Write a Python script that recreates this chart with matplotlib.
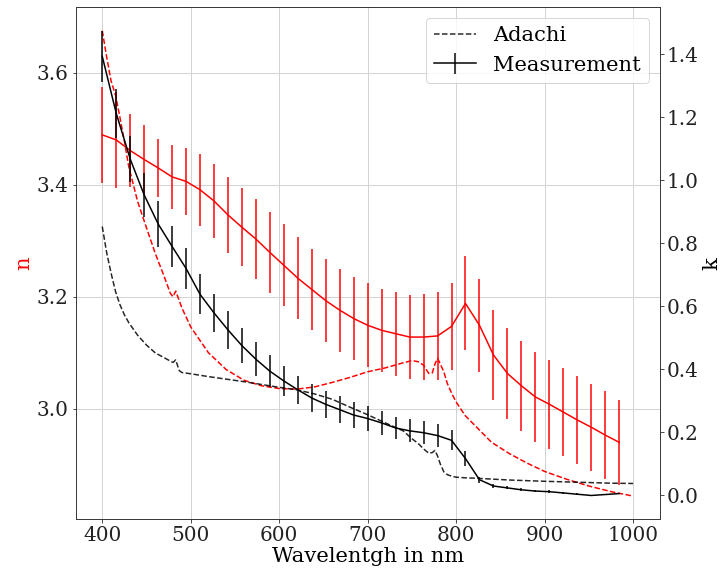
import matplotlib
matplotlib.use('Agg')
import matplotlib.pyplot as plt
import numpy as np

# measured points (nm)
wavelength = [400.0, 415.8, 431.6, 447.4, 463.2, 478.9, 494.7, 510.5, 526.3, 542.1,
              557.9, 573.7, 589.5, 605.3, 621.1, 636.8, 652.6, 668.4, 684.2, 700.0,
              715.8, 731.6, 747.4, 763.2, 778.9, 794.7, 810.5, 826.3, 842.1, 857.9,
              873.7, 889.5, 905.3, 921.1, 936.8, 952.6, 968.4, 984.2]

n_meas = [3.489, 3.480, 3.461, 3.445, 3.430, 3.414, 3.406, 3.391, 3.371, 3.346,
          3.324, 3.303, 3.279, 3.256, 3.233, 3.213, 3.193, 3.176, 3.161, 3.149,
          3.140, 3.134, 3.128, 3.128, 3.130, 3.147, 3.188, 3.149, 3.096, 3.063,
          3.041, 3.021, 3.008, 2.994, 2.980, 2.967, 2.953, 2.940]
n_err = [0.086, 0.086, 0.065, 0.062, 0.052, 0.057, 0.060, 0.064, 0.066, 0.068,
         0.070, 0.071, 0.072, 0.073, 0.073, 0.073, 0.074, 0.074, 0.074, 0.075,
         0.074, 0.075, 0.075, 0.076, 0.078, 0.078, 0.084, 0.083, 0.081, 0.081,
         0.080, 0.080, 0.079, 0.078, 0.078, 0.078, 0.078, 0.076]

k_meas = [1.393, 1.212, 1.067, 0.953, 0.861, 0.790, 0.720, 0.638, 0.579, 0.525,
          0.475, 0.432, 0.394, 0.363, 0.335, 0.309, 0.289, 0.272, 0.255, 0.244,
          0.230, 0.214, 0.205, 0.199, 0.190, 0.175, 0.117, 0.050, 0.030, 0.024,
          0.018, 0.014, 0.012, 0.008, 0.004, 0.000, 0.003, 0.006]
k_err = [0.081, 0.077, 0.074, 0.071, 0.074, 0.066, 0.065, 0.064, 0.060, 0.060,
         0.055, 0.054, 0.050, 0.049, 0.045, 0.045, 0.043, 0.042, 0.041, 0.041,
         0.037, 0.034, 0.036, 0.037, 0.037, 0.032, 0.023, 0.010, 0.006, 0.005,
         0.005, 0.004, 0.004, 0.003, 0.003, 0.002, 0.002, 0.002]

# Adachi model curves
adachi_wl = [400, 405, 410, 415, 420, 425, 430, 440, 450, 460, 470, 477, 480, 483, 487,
             490, 500, 520, 540, 560, 580, 600, 620, 640, 660, 680, 700, 720, 740, 750,
             757, 763, 769, 773, 776, 779, 782, 786, 790, 795, 800, 810, 820, 840, 860,
             880, 900, 925, 950, 975, 1000]
adachi_n = [3.675, 3.628, 3.585, 3.560, 3.520, 3.478, 3.432, 3.370, 3.323, 3.277, 3.236,
            3.206, 3.200, 3.210, 3.193, 3.180, 3.146, 3.100, 3.070, 3.051, 3.041, 3.036,
            3.035, 3.039, 3.047, 3.056, 3.066, 3.073, 3.082, 3.086, 3.084, 3.078, 3.063,
            3.064, 3.080, 3.090, 3.080, 3.066, 3.045, 3.027, 3.012, 2.988, 2.972, 2.940,
            2.920, 2.903, 2.888, 2.874, 2.862, 2.852, 2.844]
adachi_k = [0.853, 0.770, 0.705, 0.647, 0.605, 0.573, 0.548, 0.508, 0.477, 0.452, 0.437,
            0.426, 0.422, 0.430, 0.396, 0.390, 0.386, 0.377, 0.369, 0.361, 0.352, 0.343,
            0.335, 0.322, 0.305, 0.280, 0.256, 0.230, 0.205, 0.180, 0.165, 0.148, 0.134,
            0.136, 0.143, 0.125, 0.100, 0.075, 0.066, 0.061, 0.058, 0.056, 0.055, 0.052,
            0.049, 0.047, 0.045, 0.043, 0.041, 0.039, 0.038]

plt.rcParams['font.family'] = 'DejaVu Serif'
plt.rcParams['font.size'] = 20

fig = plt.figure(figsize=(721 / 72, 572 / 72), dpi=72)
ax = fig.add_axes([0.105, 0.092, 0.81, 0.895])
ax2 = ax.twinx()

# n on the left axis
ax.plot(adachi_wl, adachi_n, '--', color='r', lw=1.5)
ax.errorbar(wavelength, n_meas, yerr=n_err, color='r', lw=1.5,
            ecolor=(1, 0, 0, 0.75), elinewidth=2)

# k on the right axis
ax2.plot(adachi_wl, adachi_k, '--', color='k', lw=1.5, alpha=0.85, label='Adachi')
ax2.errorbar(wavelength, k_meas, yerr=k_err, color='k', lw=1.5,
             ecolor=(0, 0, 0, 0.75), elinewidth=2, label='Measurement')

ax.grid(color='#d3d3d3', lw=1)
ax.set_axisbelow(True)
ax.set_xticks([400, 500, 600, 700, 800, 900, 1000])
ax.set_yticks([3.0, 3.2, 3.4, 3.6])
ax2.set_yticks([0.0, 0.2, 0.4, 0.6, 0.8, 1.0, 1.2, 1.4])

ax.set_xlabel('Wavelentgh in nm', fontsize=21, labelpad=2)
ax.set_ylabel('n', color='r', fontsize=21)
ax2.set_ylabel('k', fontsize=21)

for a in (ax, ax2):
    for s in a.spines.values():
        s.set_color('#333333')
    a.tick_params(colors='#222222')

ax2.legend(loc='upper right', fontsize=21)

fig.savefig('out.png', dpi=72)
